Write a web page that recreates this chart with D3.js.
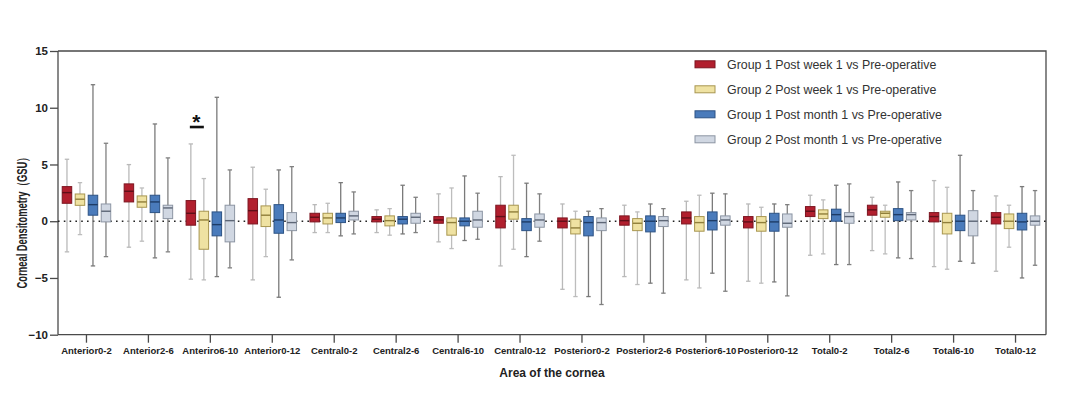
<!DOCTYPE html>
<html><head><meta charset="utf-8">
<script src="https://cdn.jsdelivr.net/npm/d3@7"></script>
<style>
body{margin:0;background:#fff;}
svg{display:block;font-family:"Liberation Sans",Arial,sans-serif;}
</style></head>
<body><svg id="chart" width="1080" height="396"></svg>
<script>
const categories = ["Anterior0-2","Anterior2-6","Anteriro6-10","Anterior0-12","Central0-2","Central2-6","Central6-10","Central0-12","Posterior0-2","Posterior2-6","Posterior6-10","Posterior0-12","Total0-2","Total2-6","Total6-10","Total0-12"];
const seriesNames = ["Group 1 Post week 1 vs Pre-operative","Group 2 Post week 1 vs Pre-operative","Group 1 Post month 1 vs Pre-operative","Group 2 Post month 1 vs Pre-operative"];
const yTicks = [-10,-5,0,5,10,15];
// each entry: [whisker low, Q1, median, Q3, whisker high]
const g1Week = [[-2.7,1.58,2.52,3.05,5.46],[-2.29,1.7,2.64,3.29,4.99],[-5.11,-0.35,0.7,1.82,6.81],[-5.17,-0.24,0.93,1.99,4.76],
  [-1.0,-0.06,0.35,0.7,1.46],[-1.0,-0.06,0.18,0.41,1.0],[-1.82,-0.18,0.11,0.41,2.41],[-3.94,-0.59,0.41,1.41,3.93],
  [-6.0,-0.59,0,0.29,1.52],[-4.88,-0.35,0.05,0.47,1.41],[-5.17,-0.24,0.29,0.82,1.76],[-5.29,-0.59,-0.06,0.41,1.52],
  [-3.0,0.41,0.88,1.29,2.29],[-2.59,0.53,1.0,1.41,2.11],[-4.0,-0.06,0.41,0.76,3.58],[-4.41,-0.24,0.35,0.76,2.23]];
const g2Week = [[-1.18,1.4,1.94,2.4,3.4],[-1.76,1.23,1.7,2.23,2.93],[-5.17,-2.47,0.11,0.88,3.76],[-3.12,-0.47,0.53,1.35,2.82],
  [-1.0,-0.24,0.29,0.7,1.58],[-1.23,-0.41,0.05,0.47,1.11],[-2.41,-1.23,-0.12,0.29,2.93],[-2.47,0.18,0.82,1.41,5.81],
  [-6.64,-1.12,-0.59,0.18,0.88],[-5.58,-0.83,-0.18,0.23,0.82],[-5.88,-0.88,-0.12,0.41,2.29],[-5.46,-0.88,-0.12,0.41,1.23],
  [-2.88,0.23,0.64,1.0,1.88],[-2.88,0.35,0.7,0.88,1.41],[-4.23,-1.12,-0.12,0.7,2.99],[-2.29,-0.65,0,0.64,1.41]];
const g1Month = [[-3.94,0.53,1.46,2.29,12.03],[-3.23,0.76,1.7,2.29,8.57],[-4.88,-1.29,-0.3,0.82,10.92],[-6.7,-1.06,0.11,1.46,4.52],
  [-1.29,-0.12,0.29,0.7,3.4],[-1.12,-0.24,0.18,0.41,3.17],[-1.7,-0.41,0,0.29,3.99],[-3.12,-0.83,-0.06,0.23,3.35],
  [-6.64,-1.29,-0.12,0.41,0.88],[-5.46,-0.94,0,0.47,1.52],[-4.58,-0.77,0.05,0.82,2.47],[-5.35,-0.88,-0.06,0.7,1.52],
  [-3.82,0,0.58,1.06,3.17],[-3.23,0.05,0.58,1.11,3.46],[-3.53,-0.83,0,0.53,5.81],[-5.0,-0.77,-0.06,0.7,3.05]];
const g2Month = [[-3.12,-0.06,0.88,1.52,6.87],[-2.7,0.23,1.17,1.41,5.58],[-4.11,-1.82,0.05,1.41,4.52],[-3.41,-0.83,-0.12,0.76,4.81],
  [-1.12,0.11,0.47,0.88,2.58],[-1.0,-0.18,0.35,0.7,2.11],[-1.59,-0.53,0.11,0.88,2.47],[-1.76,-0.53,0.11,0.64,2.41],
  [-7.34,-0.83,-0.12,0.29,1.11],[-6.34,-0.47,0.05,0.41,1.11],[-6.17,-0.35,0.11,0.47,2.41],[-6.58,-0.53,-0.18,0.64,1.46],
  [-3.82,-0.18,0.41,0.76,3.29],[-3.29,0.11,0.58,0.76,2.7],[-3.7,-1.29,0,0.93,2.7],[-3.88,-0.35,0,0.47,2.7]];
const seriesData = [g1Week, g2Week, g1Month, g2Month];
const sigCategory = "Anteriro6-10";
const sigValue = 8.3;

const fills = ["#b11f2e","#efe2a2","#4a7bbb","#d0d7e2"];
const strokes = ["#7d1520","#a89650","#2d5385","#8c95a3"];
const medians = ["#5e0f18","#8f7e3a","#1e3c66","#5d6676"];
const whiskerCol = ["#b9b9b9","#bdbdbd","#7a7a7a","#808080"];

const svg = d3.select("#chart");
const pLeft = 58, pRight = 1046, pTop = 51, pBottom = 334.7;
const x = d3.scaleBand().domain(categories).range([55.5, 1046.5]).padding(0);
const sx = d3.scaleBand().domain(d3.range(4)).range([-26, 26]).padding(0);
const y = d3.scaleLinear().domain([-10, 15]).range([pBottom, pTop]);
const bw = 9.5;
const axisCol = "#4a4a4a";

// frame top/right
svg.append("path").attr("d", `M${pLeft},${pTop}H${pRight}V${pBottom}`).attr("fill","none").attr("stroke",axisCol).attr("stroke-width",1.3);

// y axis
const yAxis = svg.append("g").attr("transform", `translate(${pLeft},0)`)
  .call(d3.axisLeft(y).tickValues(yTicks).tickSize(8).tickPadding(2).tickSizeOuter(0));
yAxis.select(".domain").attr("stroke",axisCol).attr("stroke-width",1.3).attr("d",`M0,${pTop}V${pBottom}`);
yAxis.selectAll(".tick line").attr("stroke",axisCol).attr("stroke-width",1.3);
yAxis.selectAll(".tick text").attr("font-size",11.5).attr("font-weight","bold").attr("fill","#222")
  .attr("font-family","'Liberation Sans',Arial,sans-serif");

// x axis
const xAxis = svg.append("g").attr("transform", `translate(0,${pBottom})`)
  .call(d3.axisBottom(x).tickSize(8).tickPadding(5).tickSizeOuter(0));
xAxis.select(".domain").attr("stroke",axisCol).attr("stroke-width",1.3).attr("d",`M${pLeft},0H${pRight}`);
xAxis.selectAll(".tick line").attr("stroke",axisCol).attr("stroke-width",1.3);
xAxis.selectAll(".tick text").attr("font-size",9.5).attr("font-weight","bold").attr("fill","#222")
  .attr("font-family","'Liberation Sans',Arial,sans-serif");

// zero dotted line
svg.append("line").attr("x1",pLeft).attr("x2",pRight).attr("y1",y(0)).attr("y2",y(0))
  .attr("stroke","#222").attr("stroke-width",1.6).attr("stroke-dasharray","1.6,4.2");

// boxes
const plot = svg.append("g");
seriesData.forEach((arr, s) => {
  const g = plot.append("g");
  const items = arr.map((d,i) => ({cat: categories[i], d}));
  const cx = it => x(it.cat) + x.bandwidth()/2 + sx(s) + sx.bandwidth()/2;
  g.selectAll("line.wh").data(items).join("line").attr("class","wh")
    .attr("x1",cx).attr("x2",cx).attr("y1",it=>y(it.d[0])).attr("y2",it=>y(it.d[4]))
    .attr("stroke",whiskerCol[s]).attr("stroke-width",1.3);
  [0,4].forEach(k => {
    g.selectAll("line.cap"+k).data(items).join("line").attr("class","cap"+k)
      .attr("x1",it=>cx(it)-2.2).attr("x2",it=>cx(it)+2.2).attr("y1",it=>y(it.d[k])).attr("y2",it=>y(it.d[k]))
      .attr("stroke",whiskerCol[s]).attr("stroke-width",1.3);
  });
  g.selectAll("rect").data(items).join("rect")
    .attr("x",it=>cx(it)-bw/2).attr("width",bw)
    .attr("y",it=>y(it.d[3])).attr("height",it=>y(it.d[1])-y(it.d[3]))
    .attr("fill",fills[s]).attr("stroke",strokes[s]).attr("stroke-width",1);
  g.selectAll("line.med").data(items).join("line").attr("class","med")
    .attr("x1",it=>cx(it)-bw/2).attr("x2",it=>cx(it)+bw/2).attr("y1",it=>y(it.d[2])).attr("y2",it=>y(it.d[2]))
    .attr("stroke",medians[s]).attr("stroke-width",1.4);
});

// significance marker
const sx0 = x(sigCategory) + x.bandwidth()/2 + sx(0) + sx.bandwidth()/2;
const sx1 = x(sigCategory) + x.bandwidth()/2 + sx(1) + sx.bandwidth()/2;
svg.append("line").attr("x1",sx0-1).attr("x2",sx1).attr("y1",y(sigValue)).attr("y2",y(sigValue))
  .attr("stroke","#111").attr("stroke-width",2.6);
svg.append("text").attr("x",(sx0+sx1)/2-1).attr("y",y(sigValue)+2).attr("text-anchor","middle")
  .attr("font-size",21).attr("font-weight","bold").attr("fill","#111").text("*");

// legend
const leg = svg.append("g");
seriesNames.forEach((n,i) => {
  const yy = 64.3 + i*25;
  leg.append("rect").attr("x",695).attr("y",yy-3.5).attr("width",20).attr("height",7)
    .attr("fill",fills[i]).attr("stroke",strokes[i]).attr("stroke-width",1);
  leg.append("text").attr("x",727).attr("y",yy+4.5).attr("font-size",12.4).attr("fill","#333").text(n);
});

// axis titles
svg.append("text").attr("transform",`translate(26.5,${(153+288)/2}) rotate(-90)`).attr("text-anchor","middle")
  .attr("font-size",14).attr("font-weight","bold").attr("fill","#222")
  .attr("textLength",136).attr("lengthAdjust","spacingAndGlyphs").text("Corneal Densitometry（GSU）");
svg.append("text").attr("x",552).attr("y",376.5).attr("text-anchor","middle")
  .attr("font-size",12).attr("font-weight","bold").attr("fill","#222").text("Area of the cornea");
</script></body></html>
